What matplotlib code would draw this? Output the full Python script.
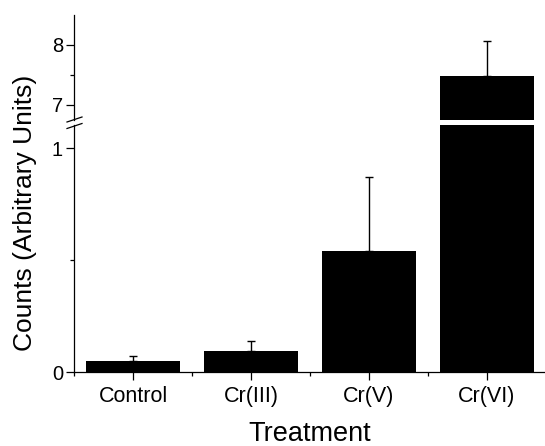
import numpy as np
import matplotlib.pyplot as plt
from matplotlib.lines import Line2D

plt.rcParams['font.family'] = ['Liberation Sans', 'DejaVu Sans']

# data
treatments = ['Control', 'Cr(III)', 'Cr(V)', 'Cr(VI)']
counts = [0.05, 0.095, 0.54, 7.48]
errors = [0.022, 0.042, 0.33, 0.58]

W, H = 545, 446
fig = plt.figure(figsize=(W / 100, H / 100), dpi=100)

# axes positions in pixels (left, top, bottom)
left = 74 / W
width = 472 / W
ax_top = fig.add_axes([left, 1 - 120 / H, width, 105 / H])
ax_bot = fig.add_axes([left, 1 - 372 / H, width, 247 / H])

x = np.arange(1, len(treatments) + 1)

for ax in (ax_top, ax_bot):
    ax.bar(x, counts, width=0.8, color='black', edgecolor='none')
    ax.errorbar(x, counts, yerr=[np.zeros(len(errors)), errors], fmt='none',
                ecolor='black', elinewidth=1, capsize=3, capthick=1)
    ax.set_xlim(0.5, 4.5)
    for s in ['top', 'right']:
        ax.spines[s].set_visible(False)
    ax.spines['left'].set_linewidth(0.9)
    ax.spines['bottom'].set_linewidth(0.9)
    ax.tick_params(axis='y', which='major', length=6, width=0.9, labelsize=14.5, pad=2)
    ax.tick_params(axis='y', which='minor', length=3, width=0.9)

# upper part
ax_top.set_ylim(6.745, 8.5)
ax_top.set_yticks([7, 8])
ax_top.set_yticks([7.5], minor=True)
ax_top.spines['bottom'].set_visible(False)
ax_top.set_xticks([])

# lower part
ax_bot.set_ylim(0, 1.103)
ax_bot.set_yticks([0, 1])
ax_bot.set_yticks([0.5], minor=True)
ax_bot.set_xticks(x)
ax_bot.set_xticklabels(treatments)
ax_bot.set_xticks([0.5, 1.5, 2.5, 3.5, 4.5], minor=True)
ax_bot.tick_params(axis='x', which='major', length=6, width=0.9, labelsize=15.5, pad=4)
ax_bot.tick_params(axis='x', which='minor', length=3, width=0.9)
ax_bot.set_xlabel('Treatment', fontsize=19.5, labelpad=10)

fig.text(25 / W, 1 - 213 / H, 'Counts (Arbitrary Units)', fontsize=19,
         rotation=90, ha='center', va='center')

# break marks on the y axis
for dy in (0, 6.5):
    fig.add_artist(Line2D([67 / W, 82 / W], [1 - (122 + dy) / H, 1 - (117 + dy) / H],
                          color='black', lw=0.9))

fig.savefig('out.png', dpi=100)
